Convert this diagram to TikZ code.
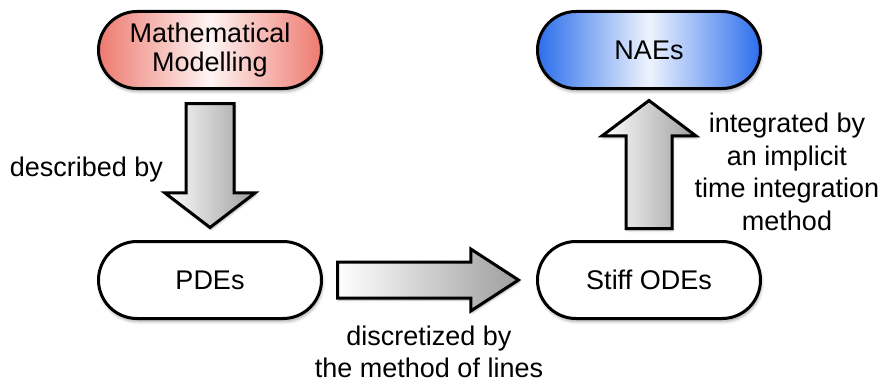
\documentclass[tikz,border=0pt]{standalone}
\usepackage{fontspec}
\setmainfont{Liberation Sans}
\usepackage{xcolor}
\definecolor{salmon}{RGB}{238,122,112}
\definecolor{azure}{RGB}{44,110,236}
\definecolor{steel}{RGB}{158,158,158}
\usepackage{tikz}
\usetikzlibrary{positioning, calc, shapes.misc, shapes.arrows, shadows.blur}

\tikzset{
    stage/.style={rounded rectangle, draw, fill=white, line width=3pt,
        minimum width=223pt, minimum height=77pt, inner sep=0pt, align=center,
        font=\fontsize{27pt}{28.5pt}\selectfont,
        blur shadow={shadow xshift=1pt, shadow yshift=-3pt, shadow blur radius=3pt, shadow opacity=35}},
    bigarrow/.style={single arrow, draw, line width=3pt, anchor=tail,
        left color=white, right color=steel,
        blur shadow={shadow xshift=1pt, shadow yshift=-2pt, shadow blur radius=2pt, shadow opacity=35}},
    lbl/.style={align=center, font=\fontsize{27pt}{32.5pt}\selectfont}
}

\begin{document}
\begin{tikzpicture}[x=1pt, y=1pt]
    \useasboundingbox (0,0) rectangle (884,384);

    \node[stage, left color=salmon, right color=salmon, middle color=salmon!8] (model) at (210,334) {Mathematical\\Modelling};
    \node[stage, below=150pt of model] (pde) {PDEs};
    \node[stage, right=213pt of pde] (ode) {Stiff ODEs};
    \node[stage, left color=azure, right color=azure, middle color=azure!8, above=150pt of ode] (nae) {NAEs};

    \node[bigarrow, shape border rotate=270, inner sep=22.5pt, minimum height=124pt, minimum width=87pt,
        single arrow head extend=21pt, single arrow tip angle=105]
        (describe) at ($(model.south)+(0,-12)$) {};
    \node[bigarrow, inner sep=16.5pt, minimum height=181pt, minimum width=59pt,
        single arrow head extend=13pt, single arrow tip angle=66]
        (discretize) at ($(pde.east)+(13,0)$) {};
    \node[bigarrow, shape border rotate=90, inner sep=21.5pt, minimum height=128pt, minimum width=91pt,
        single arrow head extend=24pt, single arrow tip angle=106]
        (integrate) at ($(ode.north)+(0,10)$) {};

    \node[lbl] (described) at (86.5,214) {described by};
    \node[lbl] (discretized) at (429,32) {discretized by\\the method of lines};
    \node[lbl] (integrated) at (787,212) {integrated by\\an implicit\\time integration\\method};
\end{tikzpicture}
\end{document}
